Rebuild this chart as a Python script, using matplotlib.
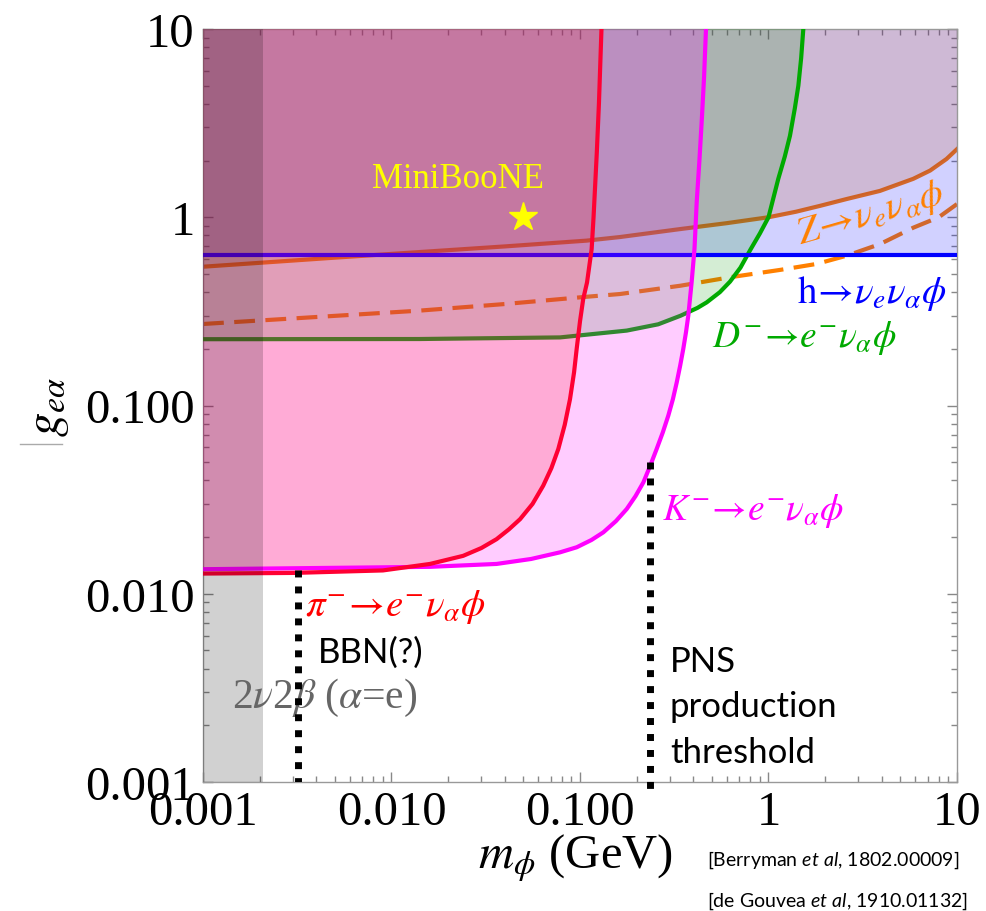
import numpy as np
import matplotlib
matplotlib.use("Agg")
import matplotlib.pyplot as plt
from matplotlib.ticker import NullFormatter, LogLocator
from matplotlib.lines import Line2D

plt.rcParams['font.family'] = ['Liberation Serif', 'DejaVu Serif']
plt.rcParams['mathtext.fontset'] = 'stix'
plt.rcParams['mathtext.rm'] = 'Lato'
plt.rcParams['mathtext.it'] = 'Lato:italic'

# boundaries of excluded regions, m_phi (GeV) vs g_ea
pi_m = [0.001, 0.003, 0.009, 0.016, 0.024, 0.030, 0.0361, 0.042, 0.0481, 0.056, 0.0638,
        0.0705, 0.0767, 0.083, 0.0885, 0.093, 0.096, 0.100, 0.104, 0.109, 0.1153, 0.118,
        0.1228, 0.126, 0.130]
pi_g = [0.0128, 0.0129, 0.0133, 0.0144, 0.0159, 0.0175, 0.0195, 0.0220, 0.0249, 0.0300,
        0.0375, 0.0465, 0.0587, 0.079, 0.108, 0.150, 0.1995, 0.28, 0.368, 0.451, 0.678,
        1.0, 2.21, 4.0, 10.0]

k_m = [0.001, 0.016, 0.0361, 0.055, 0.0784, 0.0961, 0.115, 0.133, 0.155, 0.177, 0.197,
       0.217, 0.236, 0.255, 0.275, 0.294, 0.311, 0.326, 0.340, 0.353, 0.365, 0.3754, 0.391,
       0.405, 0.416, 0.430, 0.443, 0.455, 0.466]
k_g = [0.0135, 0.0139, 0.0144, 0.0153, 0.0166, 0.01766, 0.0193, 0.0212, 0.0243, 0.0282,
       0.0330, 0.0391, 0.048, 0.0587, 0.072, 0.0883, 0.108, 0.1327, 0.163, 0.1995, 0.245,
       0.30, 0.451, 0.68, 1.2, 2.0, 3.33, 5.5, 10.0]

d_m = [0.001, 0.014, 0.0784, 0.177, 0.26, 0.342, 0.42, 0.47, 0.552, 0.625, 0.71, 0.8, 0.9,
       1.0, 1.127, 1.22, 1.30, 1.38, 1.44, 1.49, 1.53]
d_g = [0.225, 0.2255, 0.230, 0.25, 0.27, 0.30, 0.33, 0.353, 0.40, 0.455, 0.54, 0.67, 0.82,
       1.0, 1.6, 2.1, 2.71, 3.8, 5.0, 7.0, 10.0]

h_g = 0.63

z_m = [0.001, 0.005, 0.014, 0.04, 0.108, 0.163, 0.342, 0.6, 1.0, 1.4, 1.88, 2.6, 3.9,
       5.86, 7.2, 8.8, 10]
z_g = [0.546, 0.61, 0.653, 0.70, 0.751, 0.785, 0.866, 0.93, 1.0, 1.07, 1.15, 1.25, 1.38,
       1.60, 1.77, 2.04, 2.30]

zd_m = [0.001, 0.014, 0.04, 0.108, 0.163, 0.342, 0.625, 1.15, 1.80, 2.6, 3.9, 5.86, 8.0, 10]
zd_g = [0.271, 0.319, 0.346, 0.378, 0.391, 0.433, 0.48, 0.525, 0.565, 0.625, 0.72, 0.88,
        1.0, 1.175]

dbb_max = 0.00208       # 2nu2beta band edge
bbn_m = 0.00318         # BBN line
bbn_top = 0.0133
pns_m = 0.235           # PNS production threshold
pns_top = 0.05

miniboone = (0.05, 1.0)

ticks = [0.001, 0.01, 0.1, 1, 10]
tick_labels = ['0.001', '0.010', '0.100', '1', '10']

fig = plt.figure(figsize=(9.86, 9.12), dpi=100)
ax = fig.add_axes([203/986, 1-783/912, 754/986, 753/912])
ax.set_xscale('log')
ax.set_yscale('log')
ax.set_xlim(1e-3, 10)
ax.set_ylim(1e-3, 10)

top = 10.0
left = 1e-3
right = 10.0

# Z lines go underneath the fills
ax.plot(z_m, z_g, color='#FF8000', lw=3, zorder=1)
ax.plot(zd_m, zd_g, color='#FF8000', lw=3, ls=(0, (5, 2.5)), zorder=1)

# h and Z regions
ax.fill_between([left, right], [h_g, h_g], top, color=(0, 0, 1), alpha=0.18, lw=0, zorder=2)
ax.fill(z_m + [right, left], z_g + [top, top], color=(0.77, 0.27, 0.0), alpha=0.165, lw=0, zorder=2)

# D region
ax.fill(d_m + [left], d_g + [top], color=(0, 0.59, 0), alpha=0.17, lw=0, zorder=3)
ax.plot(d_m, d_g, color='#00AA00', lw=3, zorder=3.5)
ax.axhline(h_g, color='#0000FF', lw=3, zorder=3.5)

# K and pi regions
ax.fill(k_m + [left], k_g + [top], color=(1, 0, 1), alpha=0.2, lw=0, zorder=4)
ax.fill(pi_m + [left], pi_g + [top], color=(1, 0, 0), alpha=0.16, lw=0, zorder=4)
ax.plot(k_m, k_g, color='#FF00FF', lw=3, zorder=5, solid_joinstyle='round')
ax.plot(pi_m, pi_g, color='#FF0033', lw=3, zorder=5, solid_joinstyle='round')

# 2nu2beta band
ax.axvspan(left, dbb_max, color='black', alpha=0.18, lw=0, zorder=6)

# BBN / PNS markers
ax.plot([bbn_m, bbn_m], [bbn_top, 1e-3], color='black', lw=5, ls=(0, (1, 1.3)), zorder=7)
ax.plot([pns_m, pns_m], [pns_top, 9e-4], color='black', lw=5, ls=(0, (1, 1.3)), zorder=7,
        clip_on=False)

ax.plot(*miniboone, marker='*', color='#FFFF00', ms=21, zorder=8)
ax.text(0.0224, 1.45, 'MiniBooNE', color='#FFFF00', fontsize=25, ha='center', va='baseline', zorder=8)

ax.text(0.00347, 0.0077, r'$\pi^{-}\!\rightarrow\! e^{-}\nu_{\alpha}\phi$', color='#FF0000', fontsize=28, va='baseline')
ax.text(0.272, 0.0249, r'$K^{-}\!\rightarrow\! e^{-}\nu_{\alpha}\phi$', color='#FF00FF', fontsize=27, va='baseline')
ax.text(0.50, 0.208, r'$D^{-}\!\rightarrow\! e^{-}\nu_{\alpha}\phi$', color='#00AA00', fontsize=27, va='baseline')
ax.text(1.415, 0.353, r'$\mathrm{h}\!\rightarrow\!\nu_e\nu_\alpha\phi$', color='#0000FF', fontsize=28, va='baseline')
ax.text(3.5, 1.04, r'$Z\!\rightarrow\!\nu_e\nu_\alpha\phi$', color='#FF8000', fontsize=28,
        rotation=16, ha='center', va='center', rotation_mode='anchor')

ax.text(0.00142, 0.0025, r'2$\nu$2$\beta$ ($\alpha$=e)', color='#666666', fontsize=30, va='baseline', zorder=6.5)
ax.text(0.00408, 0.00434, 'BBN(?)', family='Lato', fontsize=25, va='baseline')
for line, yb in zip(['PNS', 'production', 'threshold'], [0.0039, 0.00225, 0.00127]):
    ax.text(0.30, yb, line, family='Lato', fontsize=25, va='baseline')

ax.set_xticks(ticks, tick_labels)
ax.set_yticks(ticks, tick_labels)
for axis in (ax.xaxis, ax.yaxis):
    axis.set_minor_locator(LogLocator(base=10, subs=np.arange(2, 10)))
    axis.set_minor_formatter(NullFormatter())
ax.tick_params(which='both', direction='in', top=True, right=True, color='#888888', width=1)
ax.tick_params(which='major', length=7, labelsize=35, pad=6)
ax.tick_params(which='minor', length=4)
for s in ax.spines.values():
    s.set_color('#999999')
    s.set_linewidth(1)

fig.text(575/986, 1-858/912, r'$m_\phi$ (GeV)', fontsize=35, ha='center', va='center')
fig.text(49/986, 1-407/912, r'$g_{e\alpha}$', fontsize=35, rotation=90, ha='center', va='center')
fig.add_artist(Line2D([20/986, 62/986], [1-445/912, 1-445/912], color='#AAAAAA', lw=1))

fig.text(707/986, 1-866/912, r'[Berryman $et\ al$, 1802.00009]', family='Lato',
         math_fontfamily='custom', fontsize=14, va='baseline')
fig.text(707/986, 1-907/912, r'[de Gouvea $et\ al$, 1910.01132]', family='Lato',
         math_fontfamily='custom', fontsize=14, va='baseline')

fig.savefig('out.png', dpi=100)
